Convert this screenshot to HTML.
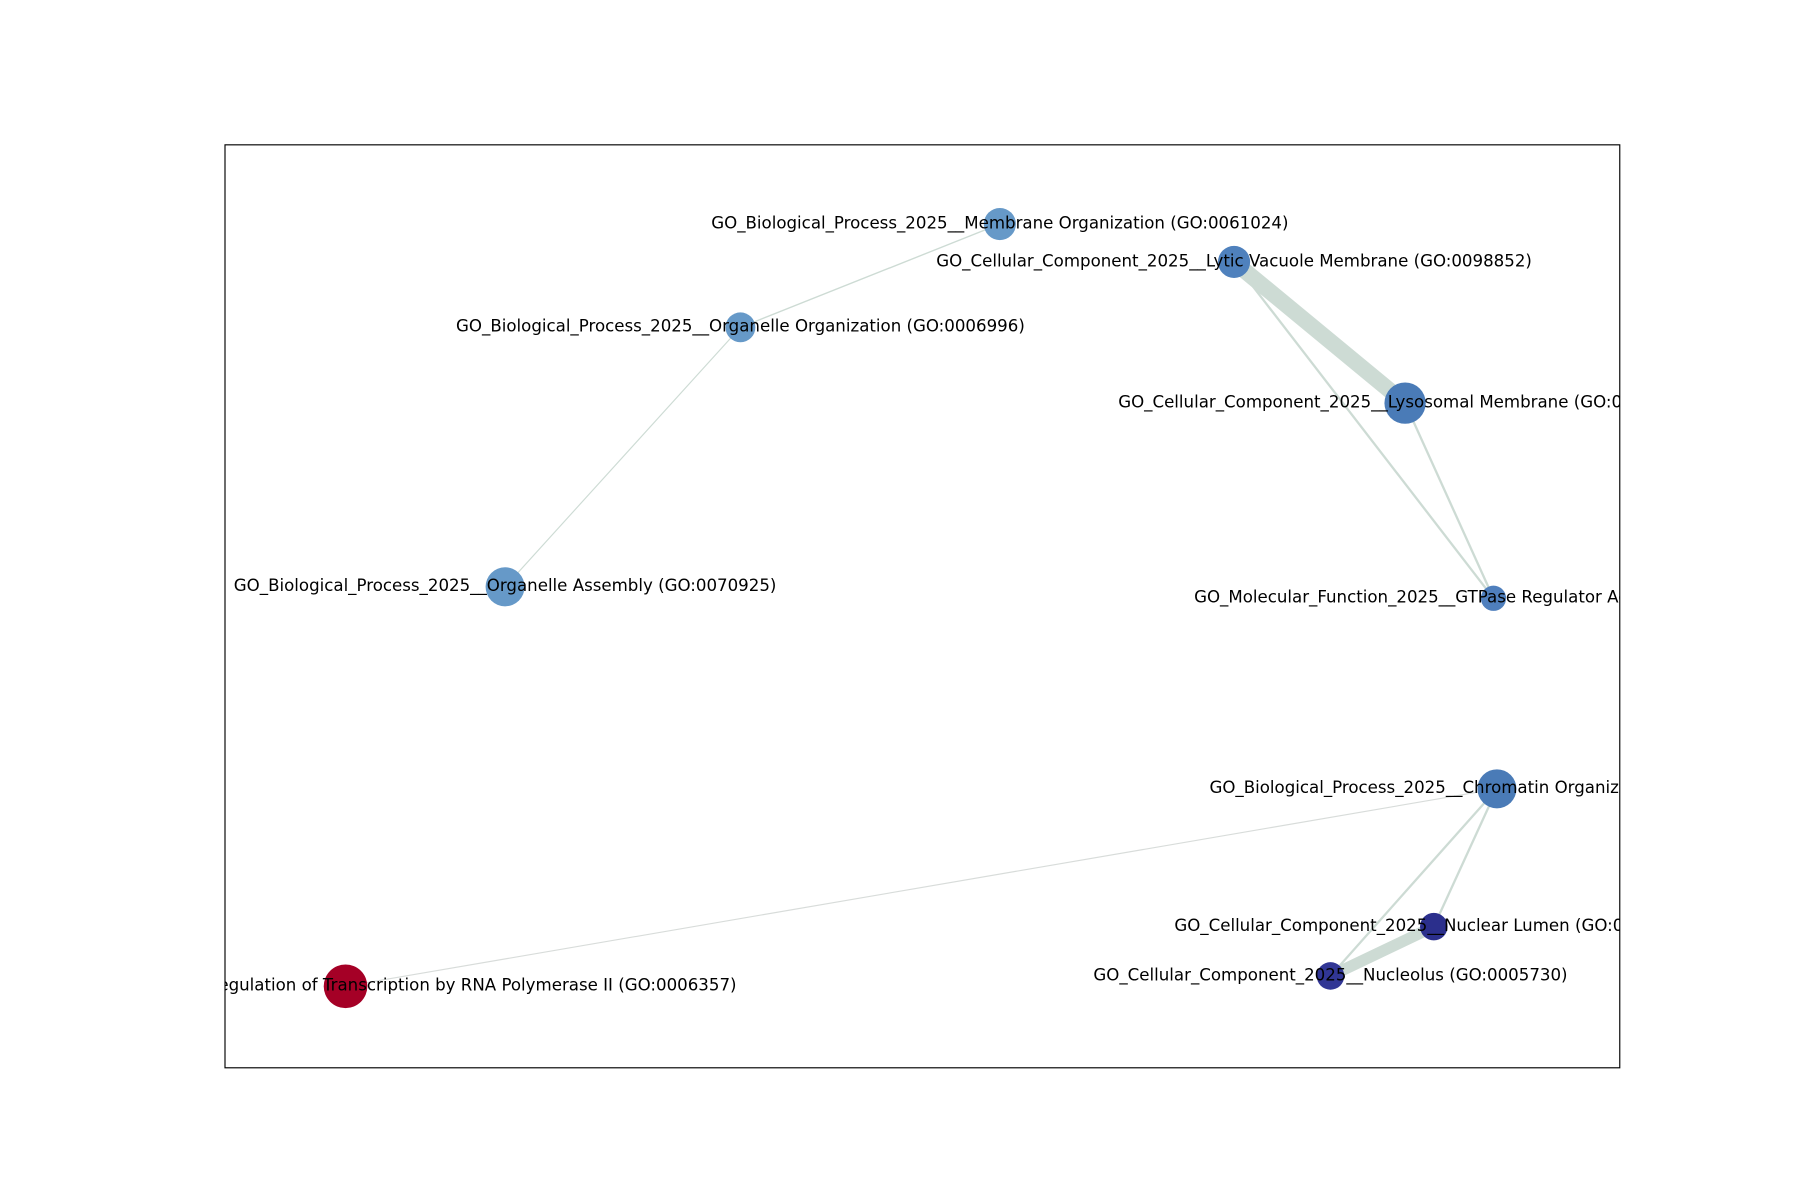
<!DOCTYPE html>
<html><head><meta charset="utf-8"><style>html,body{margin:0;padding:0;background:#fff;}svg{display:block}</style></head>
<body>
<svg width="1800" height="1200" viewBox="0 0 1568 1045" xmlns="http://www.w3.org/2000/svg">
<defs><clipPath id="ax"><rect x="196" y="126" width="1215" height="804"/></clipPath></defs>
<rect x="0" y="0" width="1568" height="1045" fill="#fff"/>
<g clip-path="url(#ax)" stroke="#cddbd4" stroke-linecap="butt" fill="none">
<line x1="871" y1="195" x2="645" y2="285" stroke-width="1.2"/>
<line x1="645" y1="285" x2="440" y2="511" stroke-width="1"/>
<line x1="1075" y1="228" x2="1224" y2="351" stroke-width="14"/>
<line x1="1075" y1="228" x2="1301" y2="521" stroke-width="2"/>
<line x1="1224" y1="351" x2="1301" y2="521" stroke-width="2"/>
<line x1="1304" y1="687" x2="301" y2="859" stroke-width="1" stroke="#d8dcda"/>
<line x1="1304" y1="687" x2="1159" y2="850" stroke-width="2"/>
<line x1="1304" y1="687" x2="1249" y2="807" stroke-width="2"/>
<line x1="1159" y1="850" x2="1249" y2="807" stroke-width="10"/>
</g>
<g clip-path="url(#ax)">
<circle cx="871" cy="195" r="14" fill="#6699c8"/>
<circle cx="1075" cy="228" r="14" fill="#4f81bd"/>
<circle cx="645" cy="285" r="13" fill="#6699c8"/>
<circle cx="1224" cy="351" r="18" fill="#4a7bb7"/>
<circle cx="440" cy="511" r="17" fill="#6699c8"/>
<circle cx="1301" cy="521" r="11" fill="#4f7fbd"/>
<circle cx="1304" cy="687" r="17" fill="#4a7bb7"/>
<circle cx="1249" cy="807" r="12" fill="#2b2f8c"/>
<circle cx="1159" cy="850" r="12" fill="#313695"/>
<circle cx="301" cy="859" r="19" fill="#a50026"/>
</g>
<g clip-path="url(#ax)" font-family="'DejaVu Sans','Liberation Sans',sans-serif" font-size="14.5" fill="#000" text-anchor="middle" dominant-baseline="central">
<text x="871" y="194">GO_Biological_Process_2025__Membrane Organization (GO:0061024)</text>
<text x="1075" y="227">GO_Cellular_Component_2025__Lytic Vacuole Membrane (GO:0098852)</text>
<text x="645" y="284">GO_Biological_Process_2025__Organelle Organization (GO:0006996)</text>
<text x="1224" y="350">GO_Cellular_Component_2025__Lysosomal Membrane (GO:0005765)</text>
<text x="440" y="510">GO_Biological_Process_2025__Organelle Assembly (GO:0070925)</text>
<text x="1301" y="520">GO_Molecular_Function_2025__GTPase Regulator Activity (GO:0030695)</text>
<text x="1304" y="686">GO_Biological_Process_2025__Chromatin Organization (GO:0006325)</text>
<text x="1249" y="806">GO_Cellular_Component_2025__Nuclear Lumen (GO:0031981)</text>
<text x="1159" y="849">GO_Cellular_Component_2025__Nucleolus (GO:0005730)</text>
<text x="301" y="858">GO_Biological_Process_2025__Regulation of Transcription by RNA Polymerase II (GO:0006357)</text>
</g>
<rect x="196" y="126" width="1215" height="804" fill="none" stroke="#000" stroke-width="1"/>
</svg>
</body></html>
